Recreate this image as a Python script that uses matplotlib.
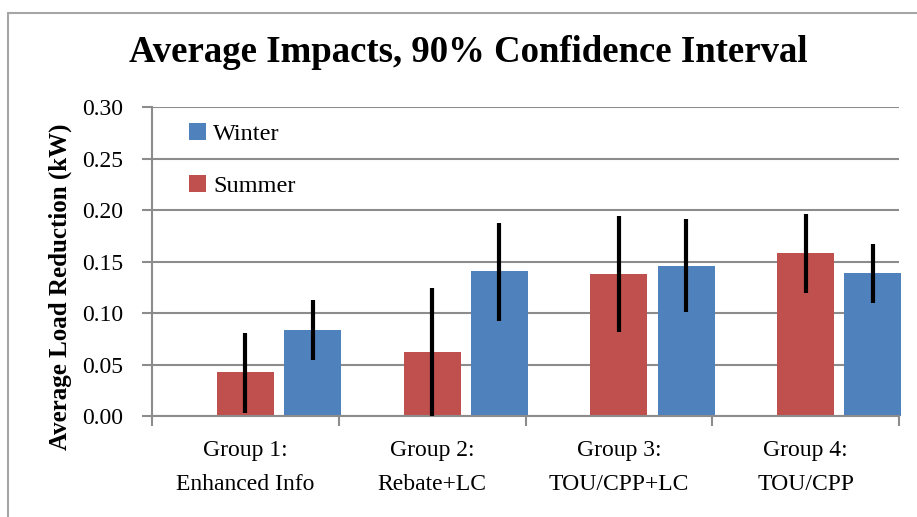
import matplotlib.pyplot as plt
import numpy as np
from matplotlib.patches import Patch, Rectangle

# values (kW)
groups = ["Group 1:\nEnhanced Info", "Group 2:\nRebate+LC",
          "Group 3:\nTOU/CPP+LC", "Group 4:\nTOU/CPP"]
summer = [0.043, 0.062, 0.138, 0.158]
summer_lo = [0.003, 0.000, 0.082, 0.120]
summer_hi = [0.081, 0.124, 0.194, 0.196]
winter = [0.084, 0.141, 0.146, 0.139]
winter_lo = [0.054, 0.092, 0.101, 0.110]
winter_hi = [0.113, 0.188, 0.191, 0.167]

RED = "#C0504D"
BLUE = "#4F81BD"
GRID = "#8C8C8C"
FONT = ["Liberation Serif", "DejaVu Serif"]

plt.rcParams["font.family"] = FONT

fig = plt.figure(figsize=(9.17, 5.17), dpi=100)
ax = fig.add_axes([152 / 917, 1 - 416 / 517, (899 - 152) / 917, (416 - 107.3) / 517])

# outer chart border (top and left edges visible)
fig.patches.append(Rectangle((8 / 917, -0.1), 1.2, 1 - 13 / 517 + 0.1,
                             transform=fig.transFigure, fill=False,
                             edgecolor="#A6A6A6", linewidth=1.5))

x = np.arange(len(groups))
w = 0.306
off = 0.36

s = np.array(summer)
wv = np.array(winter)
s_err = [s - np.array(summer_lo), np.array(summer_hi) - s]
w_err = [wv - np.array(winter_lo), np.array(winter_hi) - wv]

ax.bar(x, summer, w, color=RED, zorder=2, clip_on=False)
ax.bar(x + off, winter, w, color=BLUE, zorder=2, clip_on=False)
ax.errorbar(x, summer, yerr=s_err, fmt="none", ecolor="black",
            elinewidth=3, capsize=0, zorder=3)
ax.errorbar(x + off, winter, yerr=w_err, fmt="none", ecolor="black",
            elinewidth=3, capsize=0, zorder=3)

ax.set_xlim(-0.5, 3.5)
ax.set_ylim(0, 0.30)
ax.set_yticks(np.arange(0, 0.301, 0.05))
ax.yaxis.set_major_formatter(plt.FuncFormatter(lambda v, _: f"{v:.2f}"))
ax.grid(axis="y", color=GRID, linewidth=1.5, zorder=0)
ax.set_axisbelow(True)

# category boundaries as major ticks, names as minor ticks
ax.set_xticks(np.arange(-0.5, 3.6, 1))
ax.set_xticklabels([])
ax.set_xticks(x, minor=True)
ax.set_xticklabels(groups, minor=True, fontsize=17, linespacing=1.85)
ax.tick_params(axis="x", which="minor", length=0, pad=17)
ax.tick_params(axis="x", which="major", length=7, width=1.5, color=GRID)
ax.tick_params(axis="y", length=7, width=1.5, color=GRID, labelsize=17, pad=14)

for side in ["top", "right"]:
    ax.spines[side].set_visible(False)
for side in ["left", "bottom"]:
    ax.spines[side].set_color(GRID)
    ax.spines[side].set_linewidth(1.5)

fig.text(60 / 917, 1 - 287 / 517, "Average Load Reduction (kW)",
         rotation=90, ha="center", va="center", fontsize=18, fontweight="bold")
fig.text(468 / 917, 1 - 53 / 517, "Average Impacts, 90% Confidence Interval",
         ha="center", va="center", fontsize=26.5, fontweight="bold")

handles = [Patch(facecolor=BLUE, label="Winter"),
           Patch(facecolor=RED, label="Summer")]
ax.legend(handles=handles, loc="upper left", bbox_to_anchor=(0.033, 0.99),
          frameon=False, fontsize=17.5, handlelength=0.7, handleheight=0.7,
          handletextpad=0.3, labelspacing=1.25, borderpad=0)

fig.savefig("out.png", dpi=100)
